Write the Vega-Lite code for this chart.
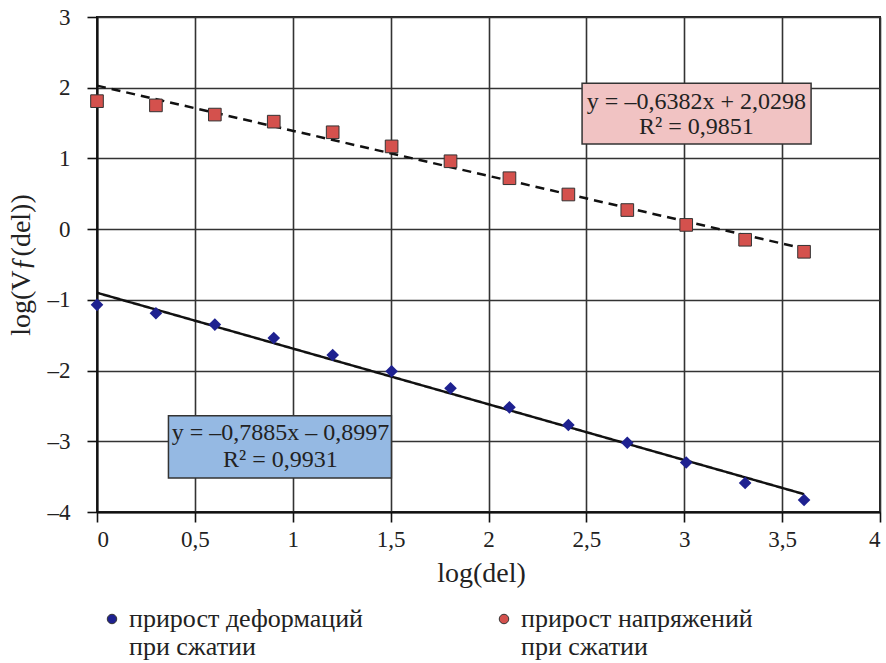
{
  "$schema": "https://vega.github.io/schema/vega-lite/v6.json",
  "width": 783,
  "height": 495,
  "autosize": {"type": "none"},
  "padding": {"left": 97, "top": 17, "right": 6, "bottom": 151},
  "background": "white",
  "config": {
    "font": "Liberation Serif",
    "view": {"stroke": "#222", "strokeWidth": 2},
    "axis": {
      "labelFont": "Liberation Serif",
      "titleFont": "Liberation Serif",
      "labelFontSize": 23,
      "titleFontSize": 28,
      "labelColor": "#222",
      "titleColor": "#222",
      "titleFontWeight": "normal",
      "gridColor": "#333",
      "gridWidth": 1.6,
      "gridOpacity": 1,
      "domainColor": "#111",
      "domainWidth": 2,
      "tickColor": "#111",
      "tickWidth": 1.6,
      "tickSize": 10
    },
    "legend": {
      "labelFont": "Liberation Serif",
      "labelFontSize": 26,
      "labelColor": "#222"
    }
  },
  "datasets": {
    "pts": [
      {"series": "blue", "x": 0, "y": -1.07},
      {"series": "blue", "x": 0.301, "y": -1.19},
      {"series": "blue", "x": 0.602, "y": -1.35},
      {"series": "blue", "x": 0.903, "y": -1.54},
      {"series": "blue", "x": 1.204, "y": -1.78},
      {"series": "blue", "x": 1.505, "y": -2.01},
      {"series": "blue", "x": 1.806, "y": -2.25},
      {"series": "blue", "x": 2.107, "y": -2.52},
      {"series": "blue", "x": 2.408, "y": -2.77},
      {"series": "blue", "x": 2.709, "y": -3.02},
      {"series": "blue", "x": 3.01, "y": -3.3},
      {"series": "blue", "x": 3.311, "y": -3.59},
      {"series": "blue", "x": 3.612, "y": -3.83},
      {"series": "red", "x": 0, "y": 1.81},
      {"series": "red", "x": 0.301, "y": 1.75},
      {"series": "red", "x": 0.602, "y": 1.62},
      {"series": "red", "x": 0.903, "y": 1.52},
      {"series": "red", "x": 1.204, "y": 1.37},
      {"series": "red", "x": 1.505, "y": 1.17},
      {"series": "red", "x": 1.806, "y": 0.96},
      {"series": "red", "x": 2.107, "y": 0.72},
      {"series": "red", "x": 2.408, "y": 0.49},
      {"series": "red", "x": 2.709, "y": 0.27},
      {"series": "red", "x": 3.01, "y": 0.06},
      {"series": "red", "x": 3.311, "y": -0.15},
      {"series": "red", "x": 3.612, "y": -0.32}
    ],
    "trend": [
      {"series": "blue", "x": 0, "y": -0.8997},
      {"series": "blue", "x": 3.612, "y": -3.7477},
      {"series": "red", "x": 0, "y": 2.0298},
      {"series": "red", "x": 3.612, "y": -0.2754}
    ],
    "boxes": [
      {"series": "blue", "x": 0.365, "x2": 1.504, "y": -2.64, "y2": -3.52},
      {"series": "red", "x": 2.478, "x2": 3.648, "y": 2.062, "y2": 1.204}
    ],
    "labels": [
      {"x": 0.937, "y": -2.88, "text": "y = –0,7885x – 0,8997"},
      {"x": 0.937, "y": -3.27, "text": "R² = 0,9931"},
      {"x": 3.062, "y": 1.80, "text": "y = –0,6382x + 2,0298"},
      {"x": 3.062, "y": 1.45, "text": "R² = 0,9851"}
    ]
  },
  "layer": [
    {
      "data": {"name": "trend"},
      "mark": {"type": "line", "color": "#111", "strokeWidth": 2.5},
      "encoding": {
        "x": {
          "field": "x", "type": "quantitative",
          "scale": {"domain": [0, 4], "nice": false, "zero": false},
          "axis": {
            "values": [0, 0.5, 1, 1.5, 2, 2.5, 3, 3.5, 4],
            "format": "~g",
            "labelExpr": "replace(datum.label, '.', ',')",
            "title": "log(del)",
            "labelPadding": 6,
            "titlePadding": 8,
            "titleX": 384,
            "grid": true
          }
        },
        "y": {
          "field": "y", "type": "quantitative",
          "scale": {"domain": [-4, 3], "nice": false, "zero": false},
          "axis": {
            "values": [-4, -3, -2, -1, 0, 1, 2, 3],
            "labelExpr": "datum.value < 0 ? '–' + abs(datum.value) : '' + datum.value",
            "title": "log(Vƒ(del))",
            "labelPadding": 17,
            "titlePadding": 12,
            "grid": true
          }
        },
        "detail": {"field": "series"},
        "strokeDash": {
          "field": "series", "type": "nominal",
          "scale": {"domain": ["blue", "red"], "range": [[1, 0], [9, 6]]},
          "legend": null
        }
      }
    },
    {
      "data": {"name": "boxes"},
      "mark": {"type": "rect", "stroke": "#333", "strokeWidth": 1.5},
      "encoding": {
        "x": {"field": "x", "type": "quantitative"},
        "x2": {"field": "x2"},
        "y": {"field": "y", "type": "quantitative"},
        "y2": {"field": "y2"},
        "fill": {
          "field": "series", "type": "nominal",
          "scale": {"domain": ["blue", "red"], "range": ["#95b9e3", "#f1c3c3"]},
          "legend": null
        }
      }
    },
    {
      "data": {"name": "labels"},
      "mark": {"type": "text", "font": "Liberation Serif", "fontSize": 24, "color": "#222", "align": "center", "baseline": "middle"},
      "encoding": {
        "x": {"field": "x", "type": "quantitative"},
        "y": {"field": "y", "type": "quantitative"},
        "text": {"field": "text"}
      }
    },
    {
      "data": {"name": "pts"},
      "mark": {"type": "point", "filled": true, "opacity": 1, "size": 160, "stroke": "#333", "strokeWidth": 1},
      "encoding": {
        "x": {"field": "x", "type": "quantitative"},
        "y": {"field": "y", "type": "quantitative"},
        "shape": {
          "field": "series", "type": "nominal",
          "scale": {"domain": ["blue", "red"], "range": ["diamond", "square"]},
          "legend": null
        },
        "fill": {
          "field": "series", "type": "nominal",
          "scale": {"domain": ["blue", "red"], "range": ["#1e2190", "#d4514d"]},
          "legend": {
            "title": null,
            "orient": "none",
            "legendX": 2,
            "legendY": 589,
            "direction": "horizontal",
            "columns": 2,
            "columnPadding": 128,
            "symbolSize": 90,
            "symbolStrokeWidth": 1,
            "labelExpr": "datum.value == 'blue' ? ['прирост деформаций', 'при сжатии'] : ['прирост напряжений', 'при сжатии']",
            "labelLimit": 400,
            "labelOffset": 4,
            "encode": {
              "symbols": {
                "update": {
                  "stroke": {"signal": "datum.value == 'blue' ? '#1e2190' : '#333'"},
                  "strokeWidth": {"value": 1},
                  "opacity": {"value": 1}
                }
              }
            }
          }
        },
        "strokeOpacity": {
          "field": "series", "type": "nominal",
          "scale": {"domain": ["blue", "red"], "range": [0, 1]},
          "legend": null
        }
      }
    }
  ],
  "resolve": {"scale": {"fill": "independent"}}
}
